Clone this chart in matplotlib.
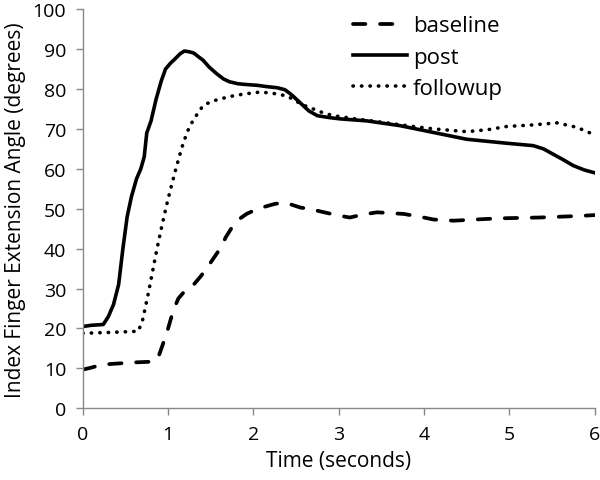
import matplotlib
matplotlib.use("Agg")
import matplotlib.pyplot as plt

plt.rcParams['font.family'] = ['Open Sans', 'DejaVu Sans']

post_t = [0.0, 0.1, 0.24, 0.30, 0.36, 0.42, 0.47, 0.52, 0.57, 0.63, 0.68, 0.72, 0.75, 0.80,
          0.86, 0.92, 0.97, 1.03, 1.08, 1.14, 1.19, 1.25, 1.30, 1.36, 1.41, 1.48, 1.57, 1.65,
          1.72, 1.82, 1.92, 2.05, 2.15, 2.28, 2.37, 2.45, 2.55, 2.65, 2.75, 2.90, 3.02, 3.33,
          3.72, 4.11, 4.50, 4.97, 5.28, 5.40, 5.51, 5.63, 5.75, 5.88, 6.0]
post_y = [20.5, 20.8, 21.0, 23.0, 26.0, 31.0, 40.0, 48.0, 53.0, 57.5, 60.0, 63.0, 69.0, 72.0,
          77.5, 82.0, 85.0, 86.5, 87.5, 88.8, 89.5, 89.3, 89.0, 88.0, 87.2, 85.5, 83.8, 82.5,
          81.8, 81.3, 81.1, 80.9, 80.6, 80.3, 79.8, 78.5, 76.5, 74.5, 73.3, 72.8, 72.5, 72.0,
          70.8, 69.1, 67.4, 66.4, 65.8, 65.0, 63.7, 62.3, 60.8, 59.7, 59.0]

follow_t = [0.0, 0.3, 0.65, 0.70, 0.77, 0.82, 0.87, 0.93, 0.98, 1.03, 1.08, 1.13, 1.18, 1.23,
            1.28, 1.35, 1.41, 1.50, 1.61, 1.75, 1.88, 2.07, 2.20, 2.31, 2.40, 2.47, 2.58, 2.70,
            2.82, 2.94, 3.20, 3.53, 3.80, 4.11, 4.50, 4.75, 4.97, 5.28, 5.56, 5.79, 6.0]
follow_y = [18.8, 19.0, 19.3, 22.0, 29.0, 34.5, 40.0, 46.0, 50.7, 55.0, 59.1, 63.0, 66.6, 69.5,
            71.6, 74.0, 75.8, 76.8, 77.5, 78.2, 78.7, 79.2, 79.0, 78.6, 78.2, 77.3, 76.0, 75.0,
            74.0, 73.3, 72.5, 71.6, 70.8, 70.0, 69.3, 69.8, 70.6, 71.0, 71.5, 70.4, 68.5]

base_t = [0.0, 0.1, 0.2, 0.32, 0.6, 0.83, 0.88, 0.93, 1.00, 1.06, 1.12, 1.18, 1.24, 1.30, 1.38,
          1.45, 1.53, 1.61, 1.68, 1.76, 1.84, 1.92, 2.03, 2.15, 2.25, 2.35, 2.45, 2.55, 2.67,
          2.85, 3.02, 3.13, 3.30, 3.45, 3.60, 3.76, 3.95, 4.11, 4.35, 4.60, 4.90, 5.36, 5.83,
          6.0]
base_y = [9.7, 10.2, 10.8, 11.1, 11.5, 11.7, 12.5, 15.5, 20.0, 24.5, 27.5, 29.0, 30.0, 31.0,
          33.0, 35.0, 37.5, 40.0, 43.0, 45.7, 47.5, 48.7, 49.8, 50.6, 51.2, 51.5, 51.0, 50.3,
          49.9, 49.0, 48.2, 47.8, 48.6, 49.1, 48.9, 48.7, 48.0, 47.3, 47.0, 47.3, 47.6, 47.8,
          48.2, 48.4]

x_ticks = [0, 1, 2, 3, 4, 5, 6]
y_ticks = [0, 10, 20, 30, 40, 50, 60, 70, 80, 90, 100]

fig = plt.figure(figsize=(6, 4.81), dpi=100)
ax = fig.add_axes([0.138, 0.149, 0.853, 0.830])

ax.plot(base_t, base_y, color='black', lw=2.7, linestyle=(0, (3.3, 3.9)), label='baseline',
        dash_capstyle='round')
ax.plot(post_t, post_y, color='black', lw=2.6, linestyle='-', label='post')
ax.plot(follow_t, follow_y, color='black', lw=2.6, linestyle=(0, (0.1, 2.25)),
        dash_capstyle='round', label='followup')

ax.set_xlim(0, 6)
ax.set_ylim(0, 100)
ax.set_xticks(x_ticks)
ax.set_yticks(y_ticks)
ax.tick_params(labelsize=14, length=5, color='#888888', width=1)
ax.tick_params(axis='y', pad=7)
ax.tick_params(axis='x', pad=7)
for s in ['top', 'right']:
    ax.spines[s].set_visible(False)
for s in ['left', 'bottom']:
    ax.spines[s].set_color('#888888')
    ax.spines[s].set_linewidth(1)

ax.set_xlabel('Time (seconds)', fontsize=15, labelpad=5)
ax.set_ylabel('Index Finger Extension Angle (degrees)', fontsize=15, labelpad=5)

ax.legend(loc='upper left', bbox_to_anchor=(353 / 600, 1 - 16.5 / 481),
          bbox_transform=fig.transFigure, frameon=False, fontsize=16,
          borderpad=0, borderaxespad=0,
          handlelength=2.45, handletextpad=0.25, labelspacing=0.46)

fig.savefig('out.png', dpi=100)
